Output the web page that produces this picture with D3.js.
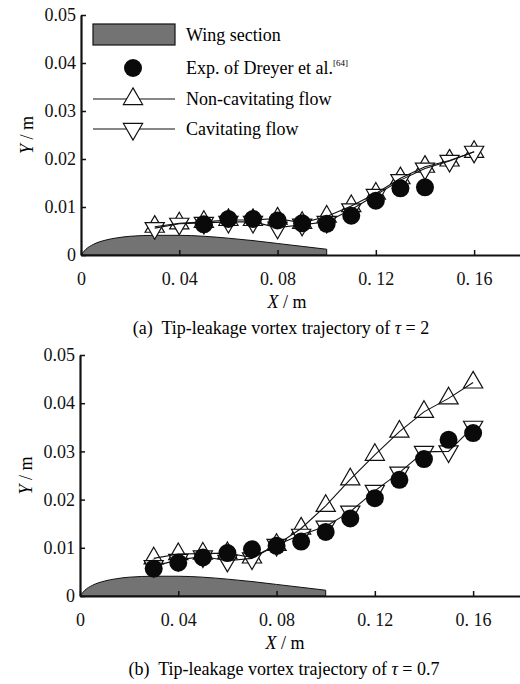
<!DOCTYPE html>
<html>
<head>
<meta charset="utf-8">
<script src="https://cdn.jsdelivr.net/npm/d3@7"></script>
<style>
  body { margin: 0; background: #fff; }
  svg { display: block; font-family: "Liberation Serif", "Times New Roman", serif; }
  text { white-space: pre; }
</style>
</head>
<body>
<svg id="chart" width="520" height="684"></svg>
<script>
// x positions of the simulation points (both panels)
const xSim = [0.03, 0.04, 0.05, 0.06, 0.07, 0.08, 0.09, 0.10, 0.11, 0.12, 0.13, 0.14, 0.15, 0.16]

// (a) tau = 2
const xExpA = [0.05, 0.06, 0.07, 0.08, 0.09, 0.10, 0.11, 0.12, 0.13, 0.14]
const expA = [0.0064, 0.0075, 0.0075, 0.0072, 0.0066, 0.0065, 0.0082, 0.0113, 0.0139, 0.0141]
const nonCavA = [0.0059, 0.0066, 0.0069, 0.0073, 0.0073, 0.0076, 0.0067, 0.0080, 0.0102, 0.0128, 0.0160, 0.0184, 0.0197, 0.0215]
const cavA = [0.0056, 0.0065, 0.0067, 0.0069, 0.0069, 0.0057, 0.0063, 0.0069, 0.0095, 0.0125, 0.0156, 0.0180, 0.0196, 0.0215]

// (b) tau = 0.7
const xExpB = xSim
const expB = [0.0057, 0.0069, 0.0080, 0.0089, 0.0097, 0.0104, 0.0113, 0.0133, 0.0161, 0.0203, 0.0241, 0.0284, 0.0324, 0.0338]
const nonCavB = [0.0078, 0.0087, 0.0088, 0.0089, 0.0080, 0.0106, 0.0140, 0.0187, 0.0242, 0.0293, 0.0341, 0.0382, 0.0410, 0.0443]
const cavB = [0.0062, 0.0075, 0.0082, 0.0073, 0.0078, 0.0106, 0.0127, 0.0144, 0.0175, 0.0218, 0.0256, 0.0299, 0.0300, 0.0351]

// wing section upper profile
const wingX = [0, 0.002, 0.005, 0.01, 0.015, 0.02, 0.03, 0.04, 0.05, 0.06, 0.07, 0.08, 0.09, 0.10]
const wingY = [0, 0.0012, 0.0022, 0.0031, 0.0036, 0.0039, 0.0041, 0.0041, 0.0039, 0.0035, 0.0030, 0.0024, 0.0018, 0.0012]

const xTicks = [0, 0.04, 0.08, 0.12, 0.16]
const xTickLabels = ["0", "0. 04", "0. 08", "0. 12", "0. 16"]
const yTicks = [0, 0.01, 0.02, 0.03, 0.04, 0.05]
const yTickLabels = ["0", "0.01", "0.02", "0.03", "0.04", "0.05"]

const legendLabels = ["Wing section", "Exp. of Dreyer et al.", "Non-cavitating flow", "Cavitating flow"]

const WING_FILL = "#737373"
const FONT = 18
const INK = "#111"
const DOT_R = 9

const svg = d3.select("#chart")

const triUp = d3.symbol().type(d3.symbolTriangle).size(160)

const styleAxis = (a) => {
  a.attr("font-family", null).attr("font-size", FONT)
  a.selectAll("text").attr("fill", INK)
  a.select(".domain").attr("stroke-width", 2.2).attr("stroke", INK)
  a.selectAll(".tick line").attr("stroke-width", 1.5).attr("stroke", INK)
}

const drawPanel = (opts) => {
  const x = d3.scaleLinear().domain([0, 0.18]).range([opts.left, opts.left + 0.18 * 2457])
  const y = d3.scaleLinear().domain([0, 0.05]).range([opts.bottom, opts.top])
  const g = svg.append("g")

  // wing section
  const wing = wingX.map((d, i) => [d, wingY[i]])
  g.append("path")
    .attr("d", d3.line().x(d => x(d[0])).y(d => y(d[1])).curve(d3.curveMonotoneX)(wing) +
      `L${x(0.1)},${y(0)}L${x(0)},${y(0)}Z`)
    .attr("fill", WING_FILL)
    .attr("stroke", INK)
    .attr("stroke-width", 1)

  // axes
  const xAxis = d3.axisBottom(x)
    .tickValues(xTicks)
    .tickFormat((d, i) => xTickLabels[i])
    .tickSizeInner(-5)
    .tickSizeOuter(0)
    .tickPadding(17)
  const yAxis = d3.axisLeft(y)
    .tickValues(yTicks)
    .tickFormat((d, i) => yTickLabels[i])
    .tickSizeInner(-5)
    .tickSizeOuter(0)
    .tickPadding(5)

  g.append("g")
    .attr("transform", `translate(0,${opts.bottom})`)
    .call(xAxis)
    .call(styleAxis)

  g.append("g")
    .attr("transform", `translate(${opts.left},0)`)
    .call(yAxis)
    .call(styleAxis)

  const line = d3.line().x(d => x(d[0])).y(d => y(d[1]))

  // simulation series: markers then connecting line
  const series = [
    { vals: opts.nonCav, rot: 0 },
    { vals: opts.cav, rot: 180 }
  ]
  series.forEach(s => {
    const pts = xSim.map((d, i) => [d, s.vals[i]])
    g.append("g")
      .selectAll("path")
      .data(pts)
      .join("path")
        .attr("d", triUp)
        .attr("transform", d => `translate(${x(d[0])},${y(d[1])}) rotate(${s.rot})`)
        .attr("fill", "#fff")
        .attr("stroke", INK)
        .attr("stroke-width", 1.2)
  })
  series.forEach(s => {
    const pts = xSim.map((d, i) => [d, s.vals[i]])
    g.append("path")
      .attr("d", line(pts))
      .attr("fill", "none")
      .attr("stroke", INK)
      .attr("stroke-width", 1.1)
  })

  // experiment
  g.append("g")
    .selectAll("circle")
    .data(opts.xExp.map((d, i) => [d, opts.exp[i]]))
    .join("circle")
      .attr("cx", d => x(d[0]))
      .attr("cy", d => y(d[1]))
      .attr("r", DOT_R)
      .attr("fill", "#0a0a0a")

  // axis titles
  g.append("text")
    .attr("transform", `translate(${opts.left - 48},${(opts.top + opts.bottom) / 2}) rotate(-90)`)
    .attr("text-anchor", "middle")
    .attr("font-size", FONT)
    .html('<tspan font-style="italic">Y</tspan> / m')

  g.append("text")
    .attr("x", opts.xTitleX)
    .attr("y", opts.bottom + 53)
    .attr("text-anchor", "middle")
    .attr("font-size", FONT)
    .html('<tspan font-style="italic">X</tspan> / m')

  g.append("text")
    .attr("x", opts.captionX)
    .attr("y", opts.bottom + 79)
    .attr("text-anchor", "middle")
    .attr("font-size", FONT)
    .html(`${opts.caption} <tspan font-style="italic">τ</tspan> = ${opts.tau}`)
}

drawPanel({
  left: 81, bottom: 255, top: 15,
  xExp: xExpA, exp: expA, nonCav: nonCavA, cav: cavA,
  xTitleX: 287, captionX: 281,
  caption: "(a)  Tip-leakage vortex trajectory of", tau: "2"
})

drawPanel({
  left: 80, bottom: 596, top: 355,
  xExp: xExpB, exp: expB, nonCav: nonCavB, cav: cavB,
  xTitleX: 285, captionX: 284,
  caption: "(b)  Tip-leakage vortex trajectory of", tau: "0.7"
})

// legend (panel a)
const legend = svg.append("g")
const lx0 = 93, lx1 = 175, lcx = 133, ltx = 186
const rowsY = [35, 68, 99, 129]

legend.append("rect")
  .attr("x", lx0).attr("y", 24)
  .attr("width", lx1 - lx0).attr("height", 21)
  .attr("fill", WING_FILL).attr("stroke", INK).attr("stroke-width", 1.2)

legend.append("circle")
  .attr("cx", lcx).attr("cy", rowsY[1]).attr("r", DOT_R).attr("fill", "#0a0a0a")

;[0, 180].forEach((rot, i) => {
  const yy = rowsY[2 + i]
  legend.append("line")
    .attr("x1", lx0).attr("x2", lx1).attr("y1", yy).attr("y2", yy)
    .attr("stroke", INK).attr("stroke-width", 1.1)
  legend.append("path")
    .attr("d", triUp)
    .attr("transform", `translate(${lcx},${yy}) rotate(${rot})`)
    .attr("fill", "#fff").attr("stroke", INK).attr("stroke-width", 1.2)
})

legend.selectAll("text.lab")
  .data(legendLabels)
  .join("text")
    .attr("class", "lab")
    .attr("x", ltx)
    .attr("y", (d, i) => rowsY[i] + 6)
    .attr("font-size", FONT)
    .text(d => d)
    .filter((d, i) => i === 1)
    .append("tspan")
      .attr("dy", -8)
      .attr("font-size", 9)
      .text("[64]")
</script>
</body>
</html>
